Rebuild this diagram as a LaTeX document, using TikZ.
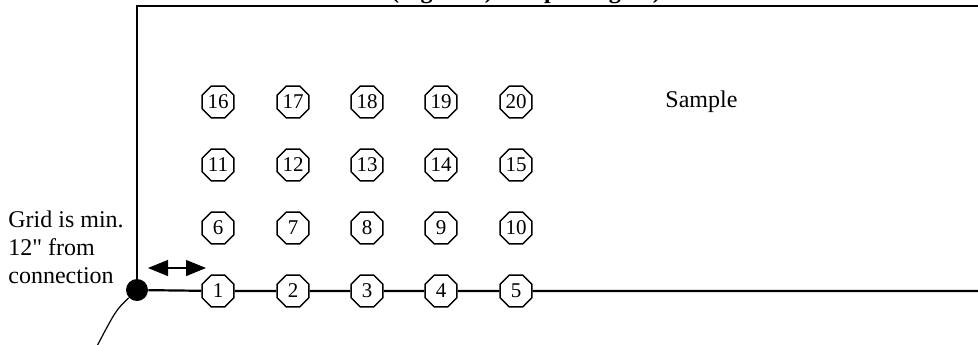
\documentclass[tikz,border=0pt]{standalone}
\usepackage{fontspec}
\setmainfont{Liberation Serif}
\newfontfamily\notefont{Liberation Serif}[Ligatures=TeXOff]
\usetikzlibrary{shapes.geometric,arrows.meta}
\tikzset{
  oct/.style={draw, regular polygon, regular polygon sides=8, minimum size=17.3pt,
    inner sep=0pt, fill=white, line width=0.75pt, font=\fontsize{10.5}{12}\selectfont},
  wire/.style={line width=1.1pt},
  lead/.style={line width=0.6pt}
}
\begin{document}
\begin{tikzpicture}[x=0.5pt,y=-0.5pt]
  \useasboundingbox (0,0) rectangle (978,344);
  % sample points, numbered row by row from the bottom
  \foreach \r/\yy in {0/291,1/228,2/165,3/102}
    \foreach \c/\xx in {1/218,2/293,3/367,4/441,5/516}{
      \pgfmathtruncatemacro{\n}{5*\r+\c}
      \node[oct] (s\n) at (\xx,\yy) {\n};
    }
  % connection and region outline
  \node[circle, fill=black, inner sep=0pt, minimum size=11pt] (dot) at (137,290) {};
  \coordinate (tr) at (990,6);
  \coordinate (br) at (990,291);
  \draw[wire] (dot) |- (tr);
  \draw[wire] (dot) -- (s1) -- (s2) -- (s3) -- (s4) -- (s5) -- (br);
  \coordinate (tail) at (96,348);
  \draw[lead] (dot) .. controls (116,310) .. (tail);
  % distance marker
  \coordinate (ga) at (148,268);
  \coordinate (gb) at (206,268);
  \draw[lead, {Triangle[length=10pt,width=8pt]}-{Triangle[length=10pt,width=8pt]}] (ga) -- (gb);
  % labels
  \node[anchor=west, align=left, inner sep=0pt, font=\notefont\fontsize{12}{14}\selectfont] (note) at (8,247)
    {Grid is min.\\12" from\\connection};
  \node[anchor=west, inner sep=0pt, font=\fontsize{12}{14}\selectfont] (smp) at (665,102) {Sample};
  \node[anchor=base, inner sep=0pt, font=\fontsize{12}{14}\selectfont\bfseries] (ttl) at (526,-2)
    {(Figure 1) Sample Region)};
\end{tikzpicture}
\end{document}
